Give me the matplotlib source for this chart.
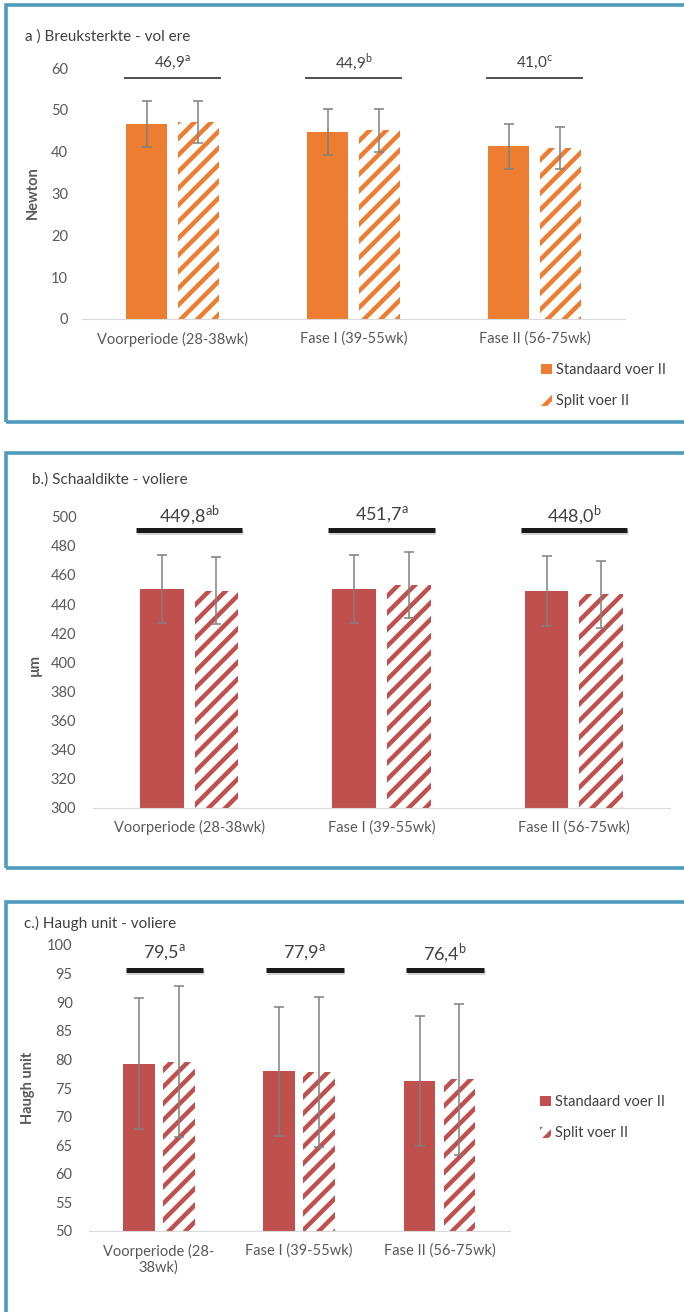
import matplotlib
matplotlib.use('Agg')
import matplotlib.pyplot as plt
import matplotlib.patheffects as pe
from matplotlib.patches import Patch, Rectangle

plt.rcParams['font.family'] = ['Lato', 'DejaVu Sans']
plt.rcParams['mathtext.fontset'] = 'custom'
plt.rcParams['mathtext.rm'] = 'Lato'
plt.rcParams['hatch.linewidth'] = 3.2

# data per panel
periodes = ['Voorperiode (28-38wk)', 'Fase I (39-55wk)', 'Fase II (56-75wk)']
periodes_c = ['Voorperiode (28-\n38wk)', 'Fase I (39-55wk)', 'Fase II (56-75wk)']

standaard_a = [46.7, 44.7, 41.3]
standaard_a_err = [5.5, 5.4, 5.4]
split_a = [47.1, 45.1, 40.8]
split_a_err = [5.0, 5.1, 5.0]
gem_a = [46.9, 44.9, 41.0]
letters_a = ['a', 'b', 'c']

standaard_b = [450.4, 450.3, 449.0]
standaard_b_err = [23.4, 23.3, 23.8]
split_b = [449.2, 453.1, 446.8]
split_b_err = [22.9, 22.9, 23.0]
gem_b = [449.8, 451.7, 448.0]
letters_b = ['ab', 'a', 'b']

standaard_c = [79.2, 77.9, 76.2]
standaard_c_err = [11.45, 11.3, 11.35]
split_c = [79.6, 77.8, 76.5]
split_c_err = [13.2, 13.1, 13.15]
gem_c = [79.5, 77.9, 76.4]
letters_c = ['a', 'a', 'b']

ORANJE = '#ED7D31'
ROOD = '#C0504D'
RAND = '#4E9BC0'
GRIJS = '#595959'

W, H = 684, 1312
fig = plt.figure(figsize=(W / 100, H / 100), dpi=100)


def px_axes(x0, x1, ytop, ybot):
    return fig.add_axes([x0 / W, 1 - ybot / H, (x1 - x0) / W, (ybot - ytop) / H])


def px_text(x, y, s, **kw):
    fig.text(x / W, 1 - y / H, s, **kw)


def kader(y0, y1):
    fig.patches.append(Rectangle((6 / W, 1 - y1 / H), 720 / W, (y1 - y0) / H,
                                 transform=fig.transFigure, fill=False,
                                 edgecolor=RAND, lw=2.6, clip_on=False))


def paneel(ax, kleur, st, st_err, sp, sp_err, labels, ylim, ystep, ypad):
    x = range(len(labels))
    xs = [i - 0.142 for i in x]
    xh = [i + 0.142 for i in x]
    ax.bar(xs, st, width=0.226, color=kleur, linewidth=0)
    ax.bar(xh, sp, width=0.226, color='white', edgecolor=kleur, hatch='//', linewidth=0)
    ekw = dict(fmt='none', ecolor='#808080', elinewidth=1.1, capsize=3.5, capthick=1.1)
    ax.errorbar(xs, st, yerr=st_err, **ekw)
    ax.errorbar(xh, sp, yerr=sp_err, **ekw)
    ax.set_xlim(-0.5, len(labels) - 0.5)
    ax.set_ylim(*ylim)
    ax.set_yticks(range(ylim[0], ylim[1] + 1, ystep))
    ax.set_xticks(list(x))
    ax.set_xticklabels(labels)
    for s in ['top', 'left', 'right']:
        ax.spines[s].set_visible(False)
    ax.spines['bottom'].set_color('#D9D9D9')
    ax.tick_params(length=0, labelsize=10.5, colors=GRIJS)
    ax.tick_params(axis='y', pad=ypad)
    ax.tick_params(axis='x', pad=9)
    ax.set_facecolor('none')


def gemiddelden(ax, gem, letters, ylijn, ytekst, dx, dik, fs):
    for i, (g, l) in enumerate(zip(gem, letters)):
        tekst = ('%.1f' % g).replace('.', ',') + r'$^{\mathrm{%s}}$' % l
        ax.text(i + dx, ytekst, tekst, ha='center', va='center', fontsize=fs,
                color='#404040', clip_on=False)
        if dik:
            ax.plot([i + dx - 0.277, i + dx + 0.277], [ylijn, ylijn], color='#1a1a1a',
                    lw=3.6, solid_capstyle='butt', clip_on=False,
                    path_effects=[pe.SimpleLineShadow(offset=(0.5, -1.5), shadow_color='#777777', alpha=0.3),
                                  pe.Normal()])
        else:
            ax.plot([i + dx - 0.262, i + dx + 0.262], [ylijn, ylijn], color='#404040',
                    lw=1.3, clip_on=False)


def legenda(kleur, x, y):
    handles = [Patch(facecolor=kleur, linewidth=0),
               Patch(facecolor='white', edgecolor=kleur, hatch='//', linewidth=0)]
    fig.legend(handles, ['Standaard voer II', 'Split voer II'], loc='upper left',
               bbox_to_anchor=(x / W, 1 - y / H), frameon=False, fontsize=10.5,
               handlelength=0.75, handleheight=0.75, handletextpad=0.25,
               labelspacing=1.2, borderpad=0, borderaxespad=0, labelcolor='#404040')


# a) breuksterkte
kader(5, 422)
ax1 = px_axes(82, 625, 68, 319)
paneel(ax1, ORANJE, standaard_a, standaard_a_err, split_a, split_a_err,
       periodes, (0, 60), 10, 10)
gemiddelden(ax1, gem_a, letters_a, 57.5, 61.4, 0.0, False, 11)
px_text(25, 37, 'a ) Breuksterkte - vol ere', fontsize=11, color='#404040', va='center')
px_text(33, 193, 'Newton', rotation=90, fontsize=10.5, fontweight='bold', color=GRIJS,
        ha='center', va='center')
legenda(ORANJE, 541, 363)

# b) schaaldikte
kader(453, 868)
ax2 = px_axes(93, 670, 516.7, 807.7)
paneel(ax2, ROOD, standaard_b, standaard_b_err, split_b, split_b_err,
       periodes, (300, 500), 20, 12)
gemiddelden(ax2, gem_b, letters_b, 490.6, 501.0, 0.0, True, 13)
px_text(32, 480, 'b.) Schaaldikte - voliere', fontsize=11, color='#404040', va='center')
px_text(35, 665, 'µm', rotation=90, fontsize=10.5, fontweight='bold', color=GRIJS,
        ha='center', va='center')

# c) haugh unit
kader(902, 1330)
ax3 = px_axes(88.6, 509.6, 945, 1231)
paneel(ax3, ROOD, standaard_c, standaard_c_err, split_c, split_c_err,
       periodes_c, (50, 100), 5, 11.5)
gemiddelden(ax3, gem_c, letters_c, 95.6, 98.6, 0.04, True, 13)
px_text(24, 923, 'c.) Haugh unit - voliere', fontsize=11, color='#404040', va='center')
px_text(28, 1088, 'Haugh unit', rotation=90, fontsize=10.5, fontweight='bold', color=GRIJS,
        ha='center', va='center')
legenda(ROOD, 540, 1095)

fig.savefig('out.png', dpi=100, facecolor='white')
